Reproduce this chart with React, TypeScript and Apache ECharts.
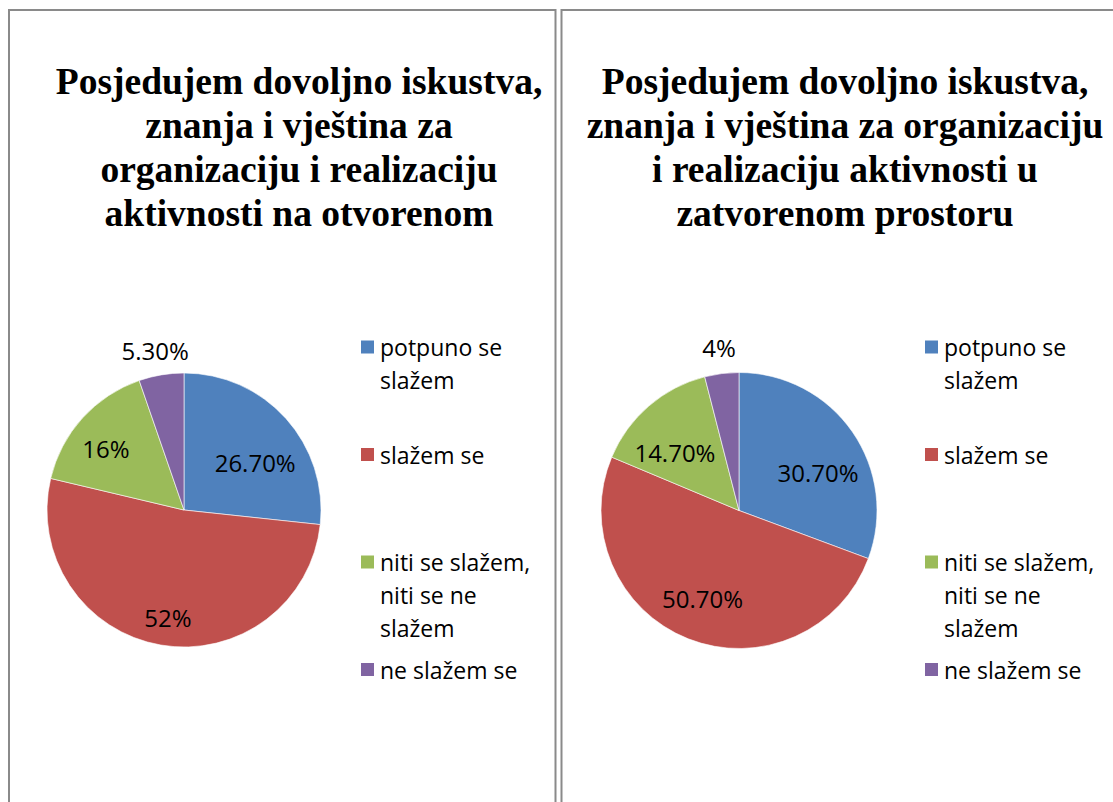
import React, { useEffect, useRef } from 'react';
import * as echarts from 'echarts';

const categories = ['potpuno se slažem', 'slažem se', 'niti se slažem, niti se ne slažem', 'ne slažem se'];
const legendLabels = ['potpuno se\nslažem', 'slažem se', 'niti se slažem,\nniti se ne\nslažem', 'ne slažem se'];
const colors = ['#4F81BD', '#C0504D', '#9BBB59', '#8064A2'];

const openValues = [26.7, 52, 16, 5.3];
const openLabels = ['26.70%', '52%', '16%', '5.30%'];
const closedValues = [30.7, 50.7, 14.7, 4];
const closedLabels = ['30.70%', '50.70%', '14.70%', '4%'];

const titleOpen = 'Posjedujem dovoljno iskustva,\nznanja i vještina za\norganizaciju i realizaciju\naktivnosti na otvorenom';
const titleClosed = 'Posjedujem dovoljno iskustva,\nznanja i vještina za organizaciju\ni realizaciju aktivnosti u\nzatvorenom prostoru';

// label nudges (layout only)
const openNudges = [[18, 0], [-4, 37], [-25, -14], [-17, -89]];
const closedNudges = [[20, 3], [-10, 21], [-17, -4], [-11, -92]];

const legendCenters = [347, 454.5, 562, 669.5];
const LH = 33;
const FONT = 'Open Sans';

function buildLegends(left: number) {
  return categories.map((name, i) => {
    const n = legendLabels[i].split('\n').length;
    // leading blank lines keep the icon level with the first text line
    const shown = '\n'.repeat(n - 1) + legendLabels[i];
    return {
      left,
      top: legendCenters[i] - ((2 * n - 1) * LH) / 2,
      orient: 'vertical',
      padding: 0,
      itemWidth: 15,
      itemHeight: 15,
      icon: 'rect',
      selectedMode: false,
      data: [name],
      formatter: () => shown,
      textStyle: {
        fontFamily: FONT,
        fontSize: 23,
        lineHeight: LH,
        color: '#000',
      },
    };
  });
}

function buildPie(center: [number, number], radius: number, values: number[], labels: string[], nudges: number[][]) {
  return {
    type: 'pie',
    center,
    radius,
    startAngle: 90,
    clockwise: true,
    avoidLabelOverlap: false,
    emphasis: { disabled: true },
    itemStyle: { borderColor: '#ffffff', borderWidth: 0.6 },
    label: {
      show: true,
      position: 'inside',
      formatter: (p: any) => labels[p.dataIndex],
      fontFamily: FONT,
      fontSize: 24,
      color: '#000',
    },
    labelLine: { show: false },
    labelLayout: (p: any) => ({ dx: nudges[p.dataIndex][0], dy: nudges[p.dataIndex][1] }),
    data: categories.map((name, i) => ({ name, value: values[i], itemStyle: { color: colors[i] } })),
  };
}

export default function App() {
  const ref = useRef<HTMLDivElement>(null);
  useEffect(() => {
    if (!ref.current) return;
    const chart = echarts.init(ref.current, null, { renderer: 'svg' });
    const titleStyle = {
      fontFamily: 'Liberation Serif',
      fontWeight: 'bold',
      fontSize: 37.5,
      lineHeight: 44,
      color: '#000',
    };
    chart.setOption({
      animation: false,
      backgroundColor: '#ffffff',
      title: [
        { text: titleOpen, left: 299, top: 59, textAlign: 'center', padding: 0, textStyle: titleStyle },
        { text: titleClosed, left: 845, top: 59, textAlign: 'center', padding: 0, textStyle: titleStyle },
      ],
      legend: [...buildLegends(359), ...buildLegends(923)],
      graphic: [
        {
          type: 'rect',
          shape: { x: 9, y: 10, width: 546.5, height: 900 },
          style: { fill: 'none', stroke: '#8a8a8a', lineWidth: 2 },
          silent: true,
        },
        {
          type: 'rect',
          shape: { x: 561.5, y: 10, width: 700, height: 900 },
          style: { fill: 'none', stroke: '#8a8a8a', lineWidth: 2 },
          silent: true,
        },
      ],
      series: [
        buildPie([184, 510], 137, openValues, openLabels, openNudges),
        buildPie([739, 510.5], 138, closedValues, closedLabels, closedNudges),
      ],
    });
    return () => chart.dispose();
  }, []);
  return (
    <div
      ref={ref}
      style={{ position: 'fixed', left: 0, top: 0, width: 1113, height: 802, background: '#fff' }}
    />
  );
}
